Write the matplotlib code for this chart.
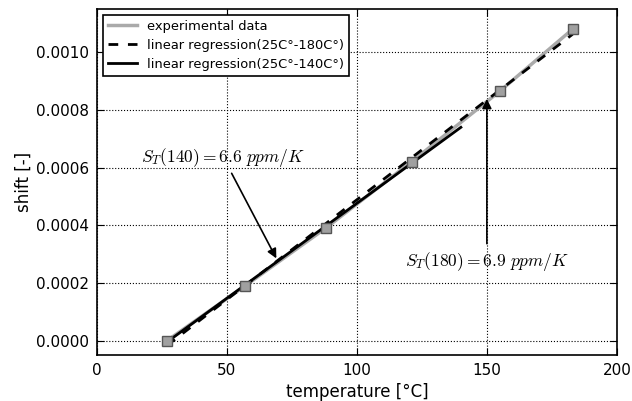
import numpy as np
import matplotlib
matplotlib.use('Agg')
from matplotlib import pyplot as plt
from matplotlib.ticker import FormatStrFormatter

plt.rcParams['mathtext.fontset'] = 'cm'
plt.rcParams['xtick.direction'] = 'in'
plt.rcParams['ytick.direction'] = 'in'
plt.rcParams['xtick.top'] = True
plt.rcParams['ytick.right'] = True

# temperatura [°C] y desplazamiento medido
temperature = np.array([27, 57, 88, 121, 155, 183])
shift = np.array([0.0, 0.00019, 0.00039, 0.00062, 0.000865, 0.00108])

# regresiones lineales
p180 = np.polyfit(temperature, shift, 1)
sel = temperature <= 140
p140 = np.polyfit(temperature[sel], shift[sel], 1)
t180 = np.array([temperature[0], temperature[-1]])
t140 = np.array([temperature[0], 140])

fig = plt.figure(figsize=(6.32, 4.01), dpi=100)
ax = fig.add_axes([0.1535, 0.1147, 0.8225, 0.863])

ax.plot(temperature, shift, color='#aaaaaa', lw=2.5, label='experimental data', zorder=2)
ax.plot(t180, np.polyval(p180, t180), 'k', lw=2, dashes=(3.5, 3.5),
        label='linear regression(25C°-180C°)', zorder=3)
ax.plot(t140, np.polyval(p140, t140), 'k', lw=2,
        label='linear regression(25C°-140C°)', zorder=3)
ax.plot(temperature, shift, 's', ms=7.5, mfc='#a0a0a0', mec='#555555', mew=1, zorder=4)

# anotaciones
ax.annotate('', xy=(69, 0.000285), xytext=(51.8, 0.00058),
            arrowprops=dict(arrowstyle='-|>', color='k', lw=1.2,
                            mutation_scale=14, shrinkA=0, shrinkB=0))
ax.text(48.5, 0.000636, r'$S_T(140) = 6.6\ ppm/K$', fontsize=12.5,
        ha='center', va='center')
ax.annotate('', xy=(150, 0.000838), xytext=(150, 0.000336),
            arrowprops=dict(arrowstyle='-|>', color='k', lw=1.2,
                            mutation_scale=14, shrinkA=0, shrinkB=0))
ax.text(150, 0.000273, r'$S_T(180) = 6.9\ ppm/K$', fontsize=12.5,
        ha='center', va='center')

ax.set_xlim(0, 200)
ax.set_ylim(-0.00005, 0.00115)
ax.set_xticks([0, 50, 100, 150, 200])
ax.set_yticks(np.arange(0, 0.00101, 0.0002))
ax.yaxis.set_major_formatter(FormatStrFormatter('%.4f'))
ax.tick_params(labelsize=11, length=5, pad=6)
ax.grid(True, color='k', linestyle=':', lw=0.8)
ax.set_xlabel('temperature [°C]', fontsize=12, labelpad=3)
ax.set_ylabel('shift [-]', fontsize=12, labelpad=2)
for s in ax.spines.values():
    s.set_linewidth(1.2)

leg = ax.legend(loc='upper left', fontsize=9.4, fancybox=False, framealpha=1,
                edgecolor='k', handlelength=2.2, borderaxespad=0.45,
                labelspacing=0.45)
leg.get_frame().set_linewidth(1.2)

fig.savefig('out.png', dpi=100)
